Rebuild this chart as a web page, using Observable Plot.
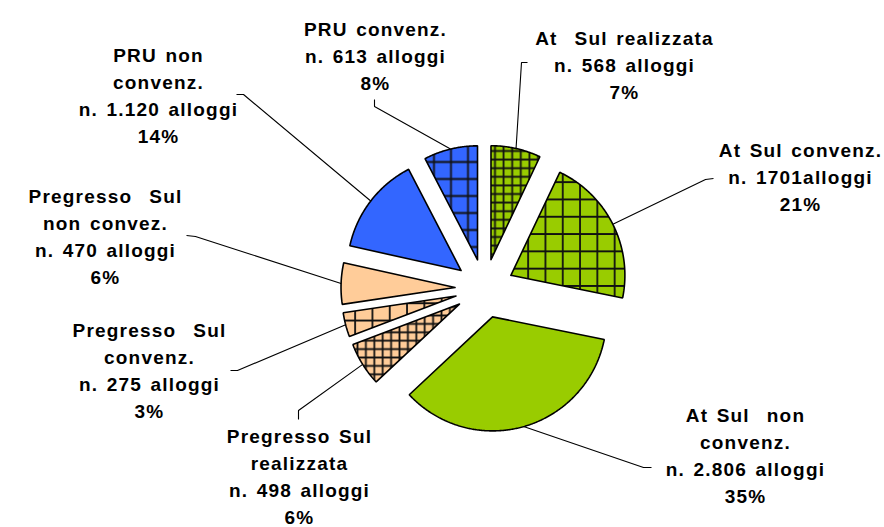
<!DOCTYPE html>
<html>
<head>
<meta charset="utf-8">
<script src="https://cdn.jsdelivr.net/npm/d3@7"></script>
<script src="https://cdn.jsdelivr.net/npm/@observablehq/plot@0.6"></script>
<style>
  html, body { margin: 0; padding: 0; background: #fff; }
  #chart svg { display: block; }
</style>
</head>
<body>
<div id="chart"></div>
<script>
// ---------- DATA ----------
const categories = [
  "At Sul realizzata", "At Sul convenz.", "At Sul non convenz.",
  "Pregresso Sul realizzata", "Pregresso Sul convenz.", "Pregresso Sul non convez.",
  "PRU non convenz.", "PRU convenz."
];
const alloggi = [568, 1701, 2806, 498, 275, 470, 1120, 613];
const percentLabels = ["7%", "21%", "35%", "6%", "3%", "6%", "14%", "8%"];
const countLabels = [
  "n. 568 alloggi", "n. 1701alloggi", "n. 2.806 alloggi", "n. 498 alloggi",
  "n. 275 alloggi", "n. 470 alloggi", "n. 1.120 alloggi", "n. 613 alloggi"
];
const nameLabels = [
  "At\u00A0\u00A0Sul realizzata", "At Sul convenz.", "At Sul\u00A0\u00A0non\nconvenz.",
  "Pregresso Sul\nrealizzata", "Pregresso\u00A0\u00A0Sul\nconvenz.", "Pregresso\u00A0\u00A0Sul\nnon convez.",
  "PRU non\nconvenz.", "PRU convenz."
];

// ---------- STYLE / LAYOUT (not data) ----------
const GREEN = "#99CC00", PEACH = "#FFCC99", BLUE = "#3366FF";
const sliceStyle = [
  {base: GREEN, grid: 8.6}, {base: GREEN, grid: 17.3}, {base: GREEN, grid: 0},
  {base: PEACH, grid: 8.4}, {base: PEACH, grid: 17.3}, {base: PEACH, grid: 0},
  {base: BLUE, grid: 0}, {base: BLUE, grid: 17.0}
];
const R = 114;        // pie radius (chart units)
const EXPLODE = 29.5; // explosion distance
const FS = 19, LH = 1.42;
// label placement relative to pie centre (y up): centre x, first baseline, leader elbow, leader tick
const labelLayout = [
  {cx: 140,  b1: 243,  elbow: [37, 226],    tick: [43, 226]},
  {cx: 316,  b1: 131,  elbow: [221, 109],   tick: [229, 110]},
  {cx: 261,  b1: -134, elbow: [159, -179],  tick: [167, -179]},
  {cx: -185, b1: -155, elbow: [-186, -122], tick: [-186, -131]},
  {cx: -335, b1: -49,  elbow: [-247, -82],  tick: [-254, -82]},
  {cx: -379, b1: 85,   elbow: [-289, 52],   tick: [-298, 53]},
  {cx: -326, b1: 226,  elbow: [-241, 194],  tick: [-248, 194]},
  {cx: -109, b1: 252,  elbow: [-110, 182],  tick: [-110, 189]}
];

// ---------- GEOMETRY ----------
const arcs = d3.pie().sort(null).value(d => d)(alloggi);
const slices = arcs.map((a, i) => {
  const mid = (a.startAngle + a.endAngle) / 2;
  const ox = EXPLODE * Math.sin(mid), oy = EXPLODE * Math.cos(mid);
  const pts = [{x: ox, y: oy}];
  const n = Math.max(8, Math.ceil((a.endAngle - a.startAngle) / (Math.PI / 360)));
  for (let k = 0; k <= n; ++k) {
    const t = a.startAngle + (a.endAngle - a.startAngle) * k / n;
    pts.push({x: ox + R * Math.sin(t), y: oy + R * Math.cos(t)});
  }
  pts.push({x: ox, y: oy});
  const edge = {x: ox + R * Math.sin(mid), y: oy + R * Math.cos(mid)};
  return {i, pts, edge};
});

const leaders = slices.flatMap(s => {
  const L = labelLayout[s.i];
  return [
    {k: s.i, x: s.edge.x, y: s.edge.y},
    {k: s.i, x: L.elbow[0], y: L.elbow[1]},
    {k: s.i, x: L.tick[0], y: L.tick[1]}
  ];
});

const labels = categories.map((c, i) => ({
  x: labelLayout[i].cx,
  y: labelLayout[i].b1 + 0.71 * LH * FS,
  text: nameLabels[i] + "\n" + countLabels[i] + "\n" + percentLabels[i]
}));

const fillOf = i => sliceStyle[i].grid ? `url(#pat${i})` : sliceStyle[i].base;

const W = 884, H = 527, CX = 484, CY = 288;

const svg = Plot.plot({
  width: W, height: H,
  margin: 0,
  x: {domain: [-CX, W - CX], axis: null},
  y: {domain: [CY - H, CY], axis: null},
  style: {background: "#fff"},
  marks: [
    ...slices.map(s => Plot.line(s.pts, {
      x: "x", y: "y", fill: fillOf(s.i), stroke: "#000",
      strokeWidth: 1.6, strokeLinejoin: "miter", curve: "linear"
    })),
    Plot.line(leaders, {x: "x", y: "y", z: "k", stroke: "#000", strokeWidth: 1.1,
      strokeLinejoin: "miter", strokeLinecap: "butt", curve: "linear"}),
    Plot.text(labels, {
      x: "x", y: "y", text: "text", lineAnchor: "top", lineHeight: LH,
      textAnchor: "middle", fontSize: FS, fontWeight: "bold",
      fontFamily: "'Liberation Sans', Arial, sans-serif", fill: "#000"
    })
  ]
});

// patterns for the hatched slices
const defs = d3.select(svg).insert("defs", ":first-child");
sliceStyle.forEach((s, i) => {
  if (!s.grid) return;
  const g = s.grid;
  const p = defs.append("pattern").attr("id", `pat${i}`)
    .attr("patternUnits", "userSpaceOnUse").attr("width", g).attr("height", g);
  p.append("rect").attr("width", g).attr("height", g).attr("fill", s.base);
  p.append("path").attr("d", `M0 ${g / 2}H${g}M${g / 2} 0V${g}`)
    .attr("stroke", "#111").attr("stroke-width", 1.8).attr("fill", "none");
});
d3.select(svg).selectAll("text").style("letter-spacing", "1.2px").style("word-spacing", "2px");

document.getElementById("chart").appendChild(svg);
</script>
</body>
</html>
